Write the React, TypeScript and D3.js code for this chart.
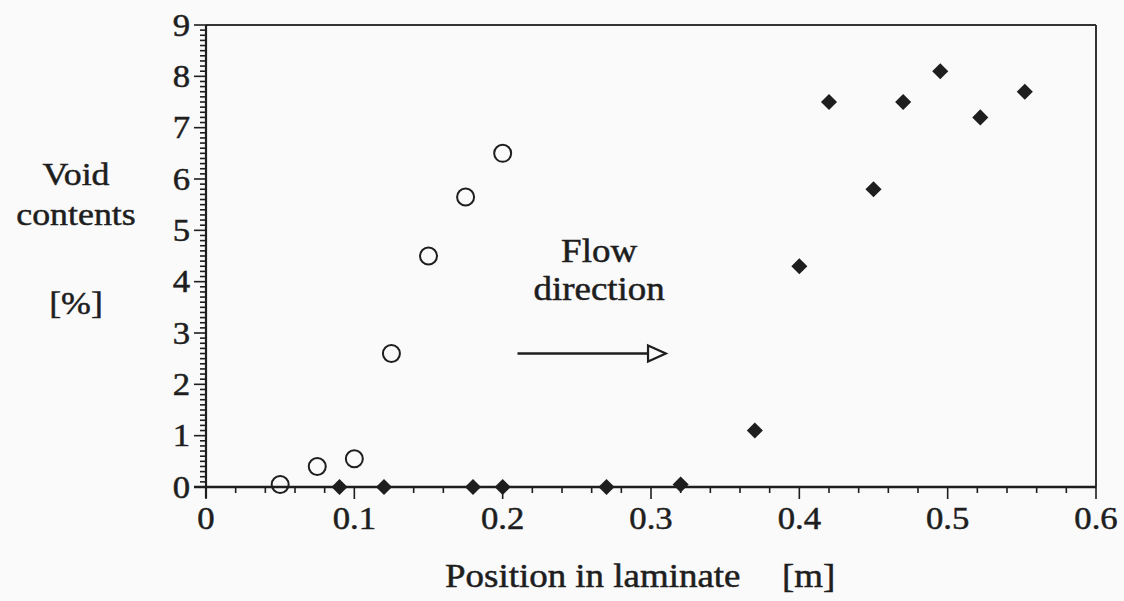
import React from "react";
import * as d3 from "d3";

const W = 1124;
const H = 601;

// Open circles (early series)
const circleX = [0.05, 0.075, 0.1, 0.125, 0.15, 0.175, 0.2];
const circleY = [0.05, 0.4, 0.55, 2.6, 4.5, 5.65, 6.5];

// Filled diamonds (later series)
const diamondX = [0.09, 0.12, 0.18, 0.2, 0.27, 0.32, 0.37, 0.4, 0.42, 0.45, 0.47, 0.495, 0.522, 0.552];
const diamondY = [0, 0, 0, 0, 0, 0.05, 1.1, 4.3, 7.5, 5.8, 7.5, 8.1, 7.2, 7.7];

const xTickLabels = ["0", "0.1", "0.2", "0.3", "0.4", "0.5", "0.6"];
const yTickLabels = ["0", "1", "2", "3", "4", "5", "6", "7", "8", "9"];

const FONT = "'Liberation Serif', 'Times New Roman', serif";
const INK = "#1e1e1e";
const BG = "#fafafa";

function T(props: {
  x: number;
  y: number;
  anchor?: "start" | "middle" | "end";
  size: number;
  sx?: number;
  dy?: string;
  children: React.ReactNode;
}) {
  const sx = props.sx ?? 1.12;
  return (
    <text
      transform={`translate(${props.x},${props.y}) scale(${sx},1)`}
      textAnchor={props.anchor ?? "start"}
      fontSize={props.size}
      dy={props.dy}
      fill={INK}
      stroke={INK}
      strokeWidth={0.5}
    >
      {props.children}
    </text>
  );
}

export default function App() {
  const x = d3.scaleLinear().domain([0, 0.6]).range([206, 1096]);
  const y = d3.scaleLinear().domain([0, 9]).range([487, 25]);

  const xMinor = d3.range(0, 31).map((i) => i * 0.02);
  const yMinor = d3.range(0, 91).map((i) => i * 0.1);

  const diamond = d3.symbol().type(d3.symbolDiamond2 ?? d3.symbolDiamond).size(165)();

  return (
    <svg
      width={W}
      height={H}
      style={{ position: "absolute", left: 0, top: 0, background: BG }}
      fontFamily={FONT}
    >
      <rect x={0} y={0} width={W} height={H} fill={BG} />

      {/* frame top and right */}
      <line x1={x(0)} x2={x(0.6)} y1={y(9)} y2={y(9)} stroke="#333" strokeWidth={2} />
      <line x1={x(0.6)} x2={x(0.6)} y1={y(9)} y2={y(0)} stroke="#333" strokeWidth={2} />

      {/* y axis */}
      <line x1={x(0)} x2={x(0)} y1={y(9)} y2={y(0) + 11} stroke={INK} strokeWidth={2.2} />
      {yMinor.map((v, i) => {
        const major = i % 10 === 0;
        return (
          <line
            key={"ym" + i}
            x1={x(0) - (major ? 12 : 6)}
            x2={x(0)}
            y1={y(v)}
            y2={y(v)}
            stroke={INK}
            strokeWidth={1.6}
          />
        );
      })}
      {yTickLabels.map((t, i) => (
        <T key={"yl" + t} x={x(0) - 16} y={y(i)} dy="0.34em" anchor="end" size={31}>
          {t}
        </T>
      ))}

      {/* x axis */}
      <line x1={x(0) - 12} x2={x(0.6)} y1={y(0)} y2={y(0)} stroke={INK} strokeWidth={2.4} />
      {xMinor.map((v, i) => {
        const major = i % 5 === 0;
        return (
          <line
            key={"xm" + i}
            x1={x(v)}
            x2={x(v)}
            y1={y(0)}
            y2={y(0) + (major ? 12 : 6)}
            stroke={INK}
            strokeWidth={1.6}
          />
        );
      })}
      {xTickLabels.map((t, i) => (
        <T key={"xl" + t} x={x(i * 0.1)} y={529} anchor="middle" size={31}>
          {t}
        </T>
      ))}

      {/* axis titles */}
      <T x={76} y={185} anchor="middle" size={32}>Void</T>
      <T x={76} y={225} anchor="middle" size={32}>contents</T>
      <T x={76} y={314} anchor="middle" size={32}>[%]</T>
      <T x={445} y={587} size={33}>Position in laminate</T>
      <T x={782} y={587} size={33}>[m]</T>

      {/* annotation */}
      <T x={x(0.265)} y={y(4.38)} anchor="middle" size={33}>Flow</T>
      <T x={x(0.265)} y={y(3.64)} anchor="middle" size={33}>direction</T>
      <line x1={x(0.21)} x2={x(0.298)} y1={y(2.6)} y2={y(2.6)} stroke={INK} strokeWidth={2.6} />
      <path
        d={`M${x(0.298)},${y(2.6) - 8} L${x(0.31)},${y(2.6)} L${x(0.298)},${y(2.6) + 8} Z`}
        fill={BG}
        stroke={INK}
        strokeWidth={2.2}
      />

      {/* series */}
      {circleX.map((v, i) => (
        <circle
          key={"c" + i}
          cx={x(v)}
          cy={y(circleY[i])}
          r={8.5}
          fill="none"
          stroke={INK}
          strokeWidth={2}
        />
      ))}
      {diamondX.map((v, i) => (
        <path
          key={"d" + i}
          d={diamond as string}
          transform={`translate(${x(v)},${y(diamondY[i])})`}
          fill={INK}
        />
      ))}
    </svg>
  );
}
